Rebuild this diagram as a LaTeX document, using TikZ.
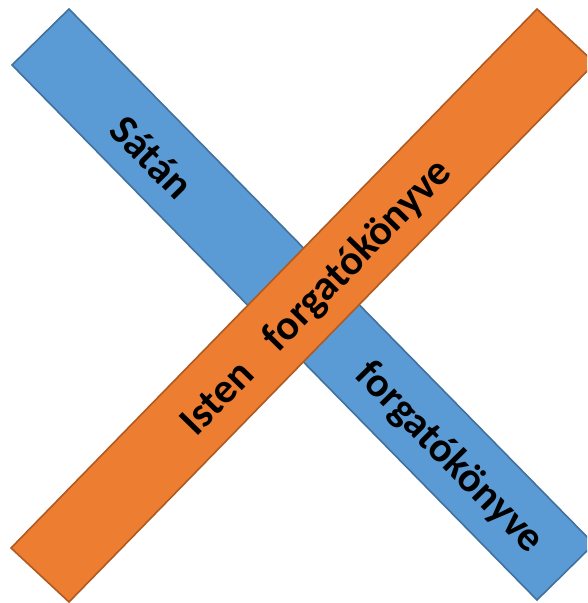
\documentclass[tikz,border=0pt]{standalone}
\usepackage{fontspec}
\setmainfont{Carlito}
\definecolor{barblue}{HTML}{5B9BD5}
\definecolor{barblueline}{HTML}{41719C}
\definecolor{barorange}{HTML}{ED7D31}
\definecolor{barorangeline}{HTML}{AE5A21}
\tikzset{
  bar/.style={line width=1.6pt, line join=miter},
  bartext/.style={font=\fontsize{42}{50}\selectfont\bfseries, text=black, inner sep=0pt}
}
\begin{document}
\begin{tikzpicture}[x=1pt, y=-1pt]
    \useasboundingbox (0,0) rectangle (587,603);
    \clip (0,0) rectangle (587,603);
    % blue bar, top left to bottom right
    \begin{scope}
      \coordinate (bt) at (69,9);
      \coordinate (bl) at (12,65);
      \coordinate (bb) at (537,600);
      \coordinate (br) at (594,544);
      \draw[bar, fill=barblue, draw=barblueline] (bt) -- (bl) -- (bb) -- (br) -- cycle;
      \node[bartext, rotate=-45.5] (satan) at (152,157) {Sátán};
      \node[bartext, rotate=-45.5] (satanbook) at (449,458) {forgatókönyve};
    \end{scope}
    % orange bar, bottom left to top right
    \begin{scope}
      \coordinate (ot) at (537,9);
      \coordinate (or) at (595,63);
      \coordinate (ob) at (69,602);
      \coordinate (ol) at (11,548);
      \draw[bar, fill=barorange, draw=barorangeline] (ot) -- (or) -- (ob) -- (ol) -- cycle;
      \node[bartext, rotate=45.7] (isten) at (317,298) {Isten\hspace{0.55em} forgatókönyve};
    \end{scope}
  \end{tikzpicture}
\end{document}
